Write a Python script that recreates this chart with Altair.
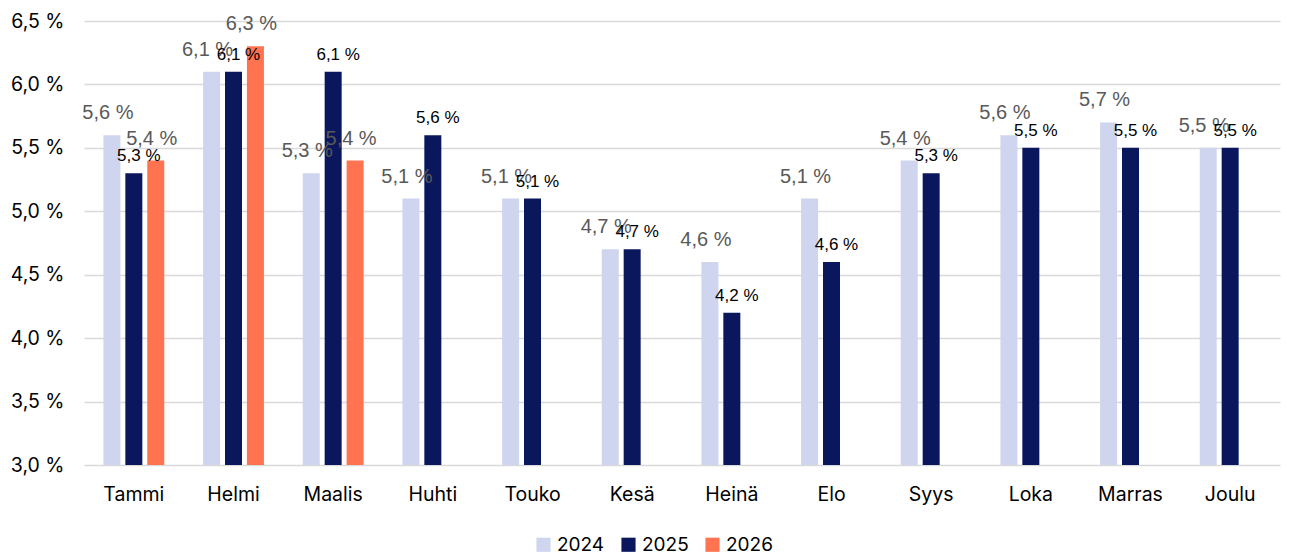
import altair as alt
import pandas as pd

months = ["Tammi", "Helmi", "Maalis", "Huhti", "Touko", "Kesä", "Heinä",
          "Elo", "Syys", "Loka", "Marras", "Joulu"]
series = ["2024", "2025", "2026"]
v2024 = [5.6, 6.1, 5.3, 5.1, 5.1, 4.7, 4.6, 5.1, 5.4, 5.6, 5.7, 5.5]
v2025 = [5.3, 6.1, 6.1, 5.6, 5.1, 4.7, 4.2, 4.6, 5.3, 5.5, 5.5, 5.5]
v2026 = [5.4, 6.3, 5.4]
colors = ["#CFD5EE", "#0A175C", "#FF7350"]

rows = []
for s, vals in zip(series, [v2024, v2025, v2026]):
    for m, v in zip(months, vals):
        rows.append({"kk": m, "vuosi": s, "arvo": v,
                     "label": f"{v:.1f}".replace(".", ",") + " %"})
df = pd.DataFrame(rows)

x = alt.X("kk:N", sort=months, title=None,
          scale=alt.Scale(paddingInner=0.34, paddingOuter=0.17),
          axis=alt.Axis(labelAngle=0, domain=False, ticks=False, labelPadding=20,
                        labelFont="Inter", labelFontSize=19.5, labelColor="#000000"))
xo = alt.XOffset("vuosi:N", sort=series, scale=alt.Scale(paddingInner=0, paddingOuter=0))
y = alt.Y("arvo:Q", title=None,
          scale=alt.Scale(domain=[3.0, 6.5], zero=False, nice=False),
          axis=alt.Axis(values=[3.0, 3.5, 4.0, 4.5, 5.0, 5.5, 6.0, 6.5],
                        labelExpr="replace(format(datum.value, '.1f'), '.', ',') + ' %'",
                        domain=False, ticks=False, labelPadding=20,
                        labelFont="Inter", labelFontSize=19.5, labelColor="#000000",
                        gridColor="#D9D9D9", gridWidth=1.5))

bars = alt.Chart(df).mark_bar(size=17, clip=True).encode(
    x=x, xOffset=xo, y=y,
    color=alt.Color("vuosi:N", sort=series,
                    scale=alt.Scale(domain=series, range=colors),
                    legend=alt.Legend(title=None, orient="none", direction="horizontal",
                                      legendX=450, legendY=514,
                                      symbolType="square", symbolSize=200,
                                      symbolStrokeWidth=0,
                                      labelFont="Inter", labelFontSize=19,
                                      labelColor="#000000", columnPadding=14)),
)

t_gray = alt.Chart(df).transform_filter("datum.vuosi != '2025'").mark_text(
    baseline="bottom", dy=-12, dx=-4, font="Liberation Sans", fontSize=20, color="#595959"
).encode(x=x, xOffset=xo, y=y, text="label:N")

t_black = alt.Chart(df).transform_filter("datum.vuosi == '2025'").mark_text(
    baseline="bottom", dy=-8, dx=5, font="Liberation Sans", fontSize=17, color="#000000"
).encode(x=x, xOffset=xo, y=y, text="label:N")

chart = alt.layer(bars, t_gray, t_black).properties(
    width=1196, height=444, padding={"left": 2, "top": 3, "right": 10, "bottom": 0}
).configure_view(stroke=None)

chart.save("out.html", embed_options={"renderer": "svg", "actions": False})
